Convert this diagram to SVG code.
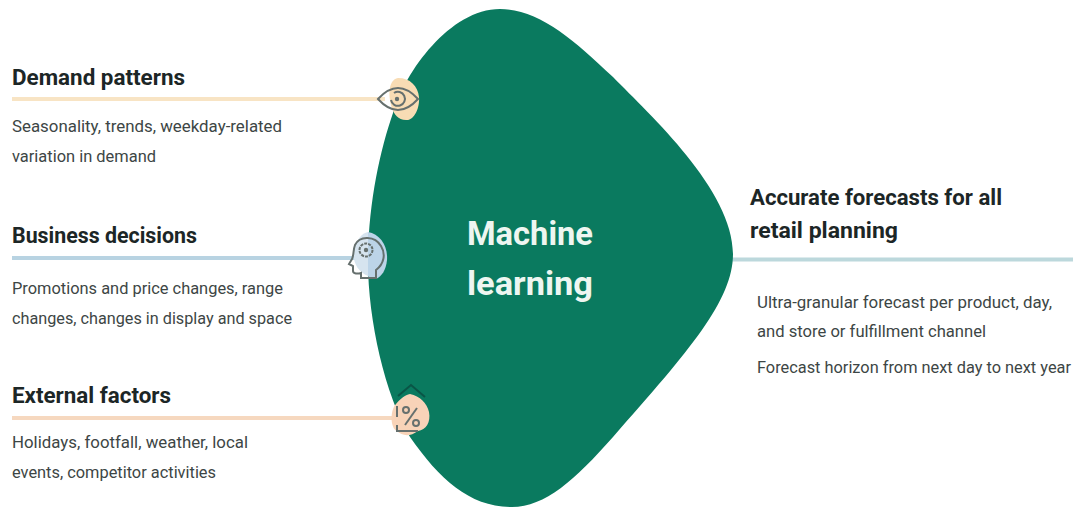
<svg xmlns="http://www.w3.org/2000/svg" width="1075" height="507" viewBox="0 0 1075 507">
<style>
.h{font-family:"Roboto","Liberation Sans",sans-serif;font-size:22px;font-weight:700;fill:#1c2626}
.b{font-family:"Roboto","Liberation Sans",sans-serif;font-size:16.5px;fill:#3d4645}
.m{font-family:"Roboto","Liberation Sans",sans-serif;font-size:34px;font-weight:700;fill:#eef6f1}
.i{fill:none;stroke:#66706e;stroke-width:2}
</style>
<rect width="1075" height="507" fill="#ffffff"/>
<g id="connectors" fill="none" stroke-width="4">
<path d="M12 99H385" stroke="#f8e4c4"/>
<path d="M12 258H356" stroke="#b8d3e2"/>
<path d="M12 418H400" stroke="#f6d8bf"/>
<path d="M732 259.500H1073" stroke="#bcd8dc"/>
</g>
<g id="machine-learning">
<path d="M500 9C538 9 572 38 613 77C650 115 733 190 733 254C733 300 690 350 613 437C575 480 545 507 512 507C470 507 440 480 410 437C385 395 368 320 368 262C368 205 380 150 393 113C405 72 450 9 500 9Z" fill="#0a7a5f"/>
<text class="m" x="467" y="245" textLength="126" lengthAdjust="spacingAndGlyphs">Machine</text>
<text class="m" x="467" y="295" textLength="126" lengthAdjust="spacingAndGlyphs">learning</text>
</g>
<g id="demand-patterns">
<text class="h" x="12" y="85" textLength="173" lengthAdjust="spacingAndGlyphs">Demand patterns</text>
<text class="b" x="12" y="132" textLength="270" lengthAdjust="spacingAndGlyphs">Seasonality, trends, weekday-related</text>
<text class="b" x="12" y="162" textLength="144" lengthAdjust="spacingAndGlyphs">variation in demand</text>
<path d="M398 78C410 78 418 86 419 97C420 108 414 121 406 120C398 120 394 114 392 108C388 96 388 80 398 78Z" fill="#f8dcb4"/>
<path class="i" d="M378 99Q398 77 418 99Q398 121 378 99Z"/>
<path class="i" d="M394 93A7 7 0 1 1 391 100"/>
<circle cx="397" cy="99" r="2.200" fill="#66706e"/>
</g>
<g id="business-decisions">
<text class="h" x="12" y="243" textLength="185" lengthAdjust="spacingAndGlyphs">Business decisions</text>
<text class="b" x="12" y="294" textLength="271" lengthAdjust="spacingAndGlyphs">Promotions and price changes, range</text>
<text class="b" x="12" y="324" textLength="280" lengthAdjust="spacingAndGlyphs">changes, changes in display and space</text>
<path d="M368 232C362 233 356 240 354 250C352 262 358 272 368 276Z" fill="#d6e4ef"/>
<path d="M368 232C380 234 388 246 387 260C386 270 382 276 376 279C372 279 370 278 368 276Z" fill="#bcd4e8"/>
<path class="i" stroke-width="1.600" d="M376 278V270C384 264 386 254 381 246C375 236 360 235 355 245C353 250 354 255 352 259L349 264L353 266V271C353 274 358 274 361 273V278Z"/>
<circle class="i" cx="366" cy="250" r="6.500" stroke-dasharray="3 1"/>
<circle cx="366" cy="250" r="2.200" fill="#66706e"/>
</g>
<g id="external-factors">
<text class="h" x="12" y="403" textLength="159" lengthAdjust="spacingAndGlyphs">External factors</text>
<text class="b" x="12" y="448" textLength="236" lengthAdjust="spacingAndGlyphs">Holidays, footfall, weather, local</text>
<text class="b" x="12" y="478" textLength="204" lengthAdjust="spacingAndGlyphs">events, competitor activities</text>
<path d="M410 394C420 396 427 403 429 412C431 422 426 430 418 431C410 437 402 436 397 431C390 428 390 410 396 404C400 399 405 395 410 394Z" fill="#f8d3b8"/>
<path d="M398 396L411 385L425 397" fill="none" stroke="#0a5546" stroke-width="2"/>
<path class="i" d="M397 406V417M397 425V431H418"/>
<path class="i" d="M405 425L417 408"/>
<circle class="i" cx="406" cy="410" r="3"/>
<circle class="i" cx="416" cy="423" r="3"/>
</g>
<g id="forecasts">
<text class="h" x="750" y="205" textLength="252" lengthAdjust="spacingAndGlyphs">Accurate forecasts for all</text>
<text class="h" x="750" y="238" textLength="148" lengthAdjust="spacingAndGlyphs">retail planning</text>
<text class="b" x="757" y="308" textLength="295" lengthAdjust="spacingAndGlyphs">Ultra-granular forecast per product, day,</text>
<text class="b" x="757" y="337" textLength="229" lengthAdjust="spacingAndGlyphs">and store or fulfillment channel</text>
<text class="b" x="757" y="373" textLength="314" lengthAdjust="spacingAndGlyphs">Forecast horizon from next day to next year</text>
</g>
</svg>
